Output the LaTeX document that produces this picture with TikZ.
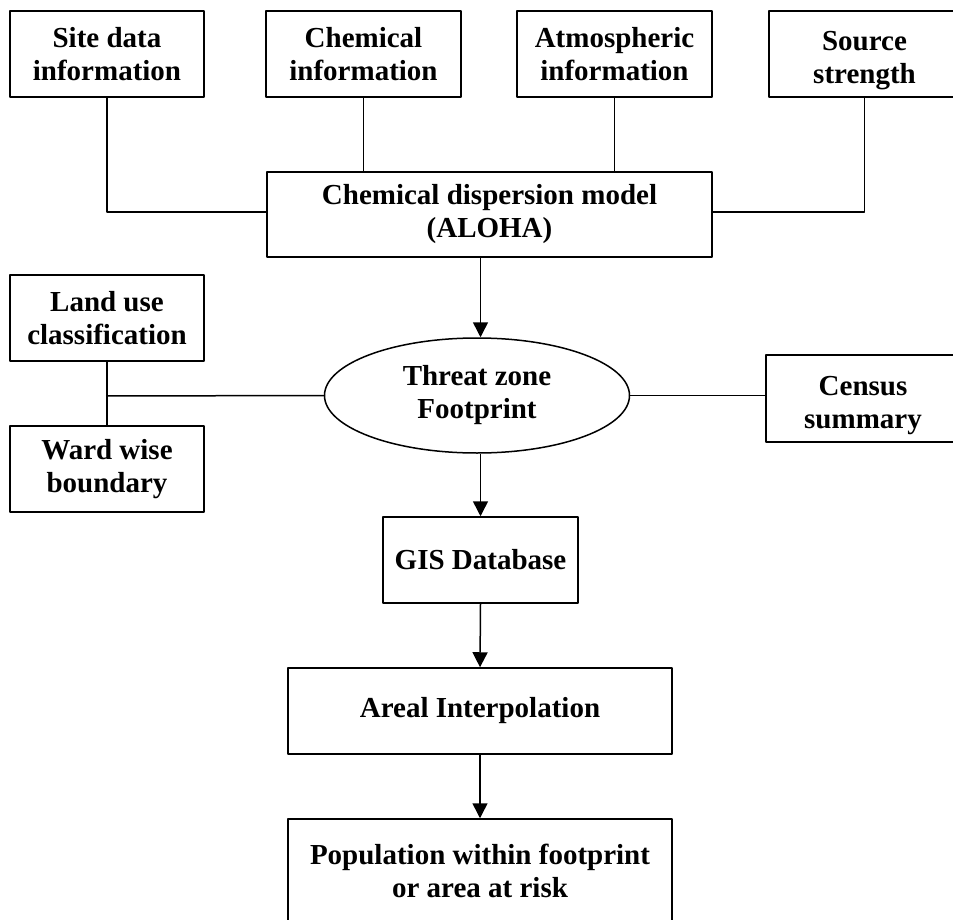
\documentclass[tikz,border=0pt]{standalone}
\usepackage{fontspec}
\setmainfont{Liberation Serif}
\usetikzlibrary{arrows.meta,shapes.geometric}
\begin{document}
\begin{tikzpicture}[x=1pt, y=-1pt, line join=round, line width=1.5pt,
	font=\fontsize{29}{33}\selectfont\bfseries,
	>={Triangle[length=15pt,width=15pt]},
	box/.style={draw, rectangle, align=center, inner sep=0pt, minimum height=86pt},
	lowbox/.style={box, text height=59pt, text depth=0pt},
	oval/.style={draw, ellipse, align=center, inner sep=0pt, minimum width=305pt, minimum height=115pt}]
	\useasboundingbox (0,0) rectangle (953,920);
	% inputs to the model
	\node[box, minimum width=194pt] (site) at (107,54) {Site data\\information};
	\node[box, minimum width=195pt] (chem) at (363.5,54) {Chemical\\information};
	\node[box, minimum width=195pt] (atmo) at (614.5,54) {Atmospheric\\information};
	\node[lowbox, minimum width=191pt] (src) at (864.5,54) {Source\\strength};
	\node[box, minimum width=445pt, minimum height=85pt] (model) at (489.5,214.5) {Chemical dispersion model\\(ALOHA)};
	\draw (site.south) |- (model.west |- 0,212);
	\draw (chem.south) -- (chem.south |- model.north);
	\draw (atmo.south) -- (atmo.south |- model.north);
	\draw (src.south) |- (model.east |- 0,212);
	% footprint and overlays
	\node[oval] (zone) at (477,395.5) {Threat zone\\Footprint};
	\node[box, minimum width=194pt] (land) at (107,318) {Land use\\classification};
	\node[box, minimum width=194pt] (ward) at (107,469) {Ward wise\\boundary};
	\node[lowbox, minimum width=194pt, minimum height=87pt] (cens) at (863,398.5) {Census\\summary};
	\coordinate (j) at (106,396);
	\draw (land.south) -- (ward.north);
	\draw (j) -- (zone.west);
	\draw (zone.east) -- (zone.east -| cens.west);
	% flow to result
	\node[box, minimum width=195pt] (gis) at (480.5,560) {GIS Database};
	\node[box, minimum width=384pt] (areal) at (480,711) {Areal Interpolation};
	\node[box, minimum width=384pt, minimum height=103pt] (pop) at (480,870.5) {Population within footprint\\or area at risk};
	\draw[->] (model.south -| gis.north) -- (zone.north -| gis.north);
	\draw[->] (zone.south -| gis.north) -- (gis.north);
	\draw[->] (gis.south) -- (areal.north);
	\draw[->] (areal.south) -- (pop.north);
\end{tikzpicture}
\end{document}
